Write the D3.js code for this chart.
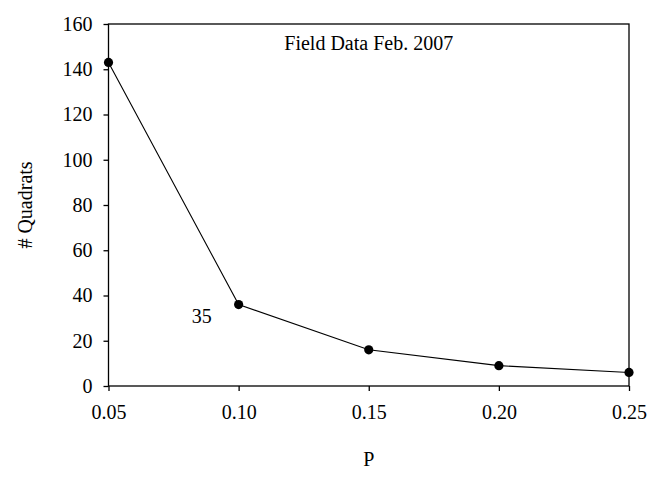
<!DOCTYPE html>
<html>
<head>
<meta charset="utf-8">
<script src="https://cdn.jsdelivr.net/npm/d3@7"></script>
<style>
  body { margin: 0; background: #fff; }
  svg text { font-family: "Liberation Serif", "Times New Roman", serif; fill: #000; font-size: 20px; }
</style>
</head>
<body>
<div id="chart"></div>
<script>
// data
const pValues = [0.05, 0.10, 0.15, 0.20, 0.25];
const quadrats = [143, 36, 16, 9, 6];
const xTicks = [0.05, 0.10, 0.15, 0.20, 0.25];
const yTicks = [0, 20, 40, 60, 80, 100, 120, 140, 160];
const chartTitle = "Field Data Feb. 2007";
const pointNote = "35";

const fWidth = 665, fHeight = 477;
const margin = { top: 24, right: 36, bottom: 91, left: 108.5 },
  width = fWidth - margin.left - margin.right,
  height = fHeight - margin.top - margin.bottom;

const xScale = d3.scaleLinear().domain([0.05, 0.25]).range([0, width]);
const yScale = d3.scaleLinear().domain([0, 160]).range([height, 0]);

const svg = d3.select("#chart").append("svg")
  .attr("width", fWidth)
  .attr("height", fHeight);

const g = svg.append("g")
  .attr("transform", `translate(${margin.left} ${margin.top})`);

// frame
g.append("rect")
  .attr("width", width)
  .attr("height", height)
  .attr("fill", "none")
  .attr("stroke", "#000")
  .attr("stroke-width", 1.3);

const xAxis = g.append("g")
  .attr("transform", `translate(0 ${height})`)
  .call(d3.axisBottom(xScale).tickValues(xTicks).tickFormat(d3.format(".2f")).tickSize(5).tickPadding(14));

const yAxis = g.append("g")
  .call(d3.axisLeft(yScale).tickValues(yTicks).tickSize(5).tickPadding(11));

[xAxis, yAxis].forEach(a => {
  a.attr("font-family", null).attr("font-size", null);
  a.select(".domain").remove();
  a.selectAll("line").attr("stroke", "#000").attr("stroke-width", 1.3);
});

// line + points
const line = d3.line()
  .x((d, i) => xScale(pValues[i]))
  .y(d => yScale(d));

g.append("path")
  .attr("d", line(quadrats))
  .attr("fill", "none")
  .attr("stroke", "#000")
  .attr("stroke-width", 1.1);

g.selectAll("circle.pt")
  .data(quadrats)
  .enter().append("circle")
  .attr("class", "pt")
  .attr("cx", (d, i) => xScale(pValues[i]))
  .attr("cy", d => yScale(d))
  .attr("r", 4.6)
  .attr("fill", "#000");

// annotations
g.append("text")
  .attr("x", width / 2)
  .attr("y", 50 - margin.top)
  .attr("text-anchor", "middle")
  .text(chartTitle);

g.append("text")
  .attr("x", xScale(0.10) - 37)
  .attr("y", yScale(quadrats[1]) + 18)
  .attr("text-anchor", "middle")
  .text(pointNote);

svg.append("text")
  .attr("x", margin.left + width / 2)
  .attr("y", 466)
  .attr("text-anchor", "middle")
  .text("P");

svg.append("text")
  .attr("transform", `translate(32 ${margin.top + height / 2}) rotate(-90)`)
  .attr("text-anchor", "middle")
  .text("# Quadrats");
</script>
</body>
</html>
